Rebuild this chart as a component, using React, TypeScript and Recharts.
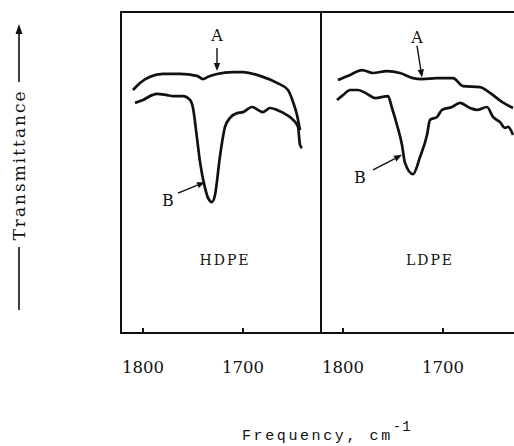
import {
  LineChart,
  Line,
  XAxis,
  YAxis,
  ReferenceArea,
  ReferenceLine,
  ReferenceDot,
} from "recharts";

// frequency axis (cm-1), each panel shows the same window, high -> low
const freqDomain = [1622, 1822];
const freqTicks = [1800, 1700];

// HDPE, spectrum A
const hdpeAFreq = [1810, 1803, 1793, 1780, 1763, 1746, 1740, 1735, 1726, 1710, 1700, 1683, 1666, 1655, 1650, 1646, 1643];
const hdpeAT = [75.7, 77.9, 79.8, 80.7, 80.7, 80.1, 79.1, 79.8, 80.7, 81.3, 81.3, 80.1, 77.9, 75.7, 72.0, 67.9, 63.2];

// HDPE, spectrum B
const hdpeBFreq = [1808, 1800, 1791, 1786, 1776, 1770, 1760, 1753, 1750, 1746, 1743, 1738, 1735, 1731, 1728, 1723, 1718, 1713, 1706, 1700, 1691, 1685, 1680, 1673, 1666, 1656, 1650, 1645, 1643, 1641];
const hdpeBT = [71.7, 72.6, 74.1, 74.5, 74.1, 73.8, 73.8, 72.6, 70.1, 60.7, 53.3, 45.2, 42.1, 40.8, 43.0, 55.1, 64.2, 67.0, 68.5, 68.8, 70.4, 69.5, 68.8, 70.1, 69.5, 67.9, 66.4, 64.2, 58.6, 57.6];

// LDPE, spectrum A
const ldpeAFreq = [1805, 1793, 1781, 1770, 1756, 1743, 1730, 1721, 1706, 1690, 1680, 1663, 1653, 1641, 1630];
const ldpeAT = [78.8, 80.4, 81.9, 81.0, 81.6, 81.0, 79.4, 79.1, 79.4, 79.4, 76.9, 76.6, 74.8, 72.0, 70.1];

// LDPE, spectrum B
const ldpeBFreq = [1806, 1800, 1793, 1785, 1776, 1768, 1755, 1751, 1746, 1741, 1738, 1730, 1723, 1716, 1713, 1706, 1701, 1691, 1683, 1673, 1666, 1656, 1650, 1643, 1638, 1635, 1630];
const ldpeBT = [72.6, 74.1, 75.7, 75.7, 74.5, 73.2, 73.8, 70.1, 64.8, 58.6, 53.0, 49.5, 54.8, 61.7, 66.4, 67.3, 69.5, 70.4, 71.7, 70.1, 69.5, 70.4, 67.3, 65.7, 63.9, 64.2, 61.7];

// curve labels: text position, arrow start, arrow tip (freq, transmittance)
const hdpeNotes = [
  { text: "A", at: [1726, 92.8], from: [1726, 88.8], to: [1726, 81.6] },
  { text: "B", at: [1775, 41.4], from: [1765, 43.6], to: [1738, 47.0] },
];
const ldpeNotes = [
  { text: "A", at: [1726, 92.2], from: [1726, 89.5], to: [1721, 79.6] },
  { text: "B", at: [1783, 48.3], from: [1770, 50.8], to: [1741, 55.5] },
];

const panelLabelT = 22.7;

const zip = (f: number[], t: number[]) => f.map((v, i) => ({ f: v, t: t[i] }));

const INK = "#111";

const FreqTick = (props: any) => {
  const { x, y, payload } = props;
  return (
    <g>
      <line x1={x} x2={x} y1={y} y2={y - 5} stroke={INK} strokeWidth={2} />
      <text
        x={x}
        y={y + 40}
        textAnchor="middle"
        fontFamily="DejaVu Serif"
        fontSize={16.5}
        fill={INK}
      >
        {payload.value}
      </text>
    </g>
  );
};

const arrowShape = (p: any) => {
  const { x1, y1, x2, y2 } = p;
  const a = Math.atan2(y2 - y1, x2 - x1);
  const L = 8;
  const W = 3.2;
  const bx = x2 - L * Math.cos(a);
  const by = y2 - L * Math.sin(a);
  const pts = `${x2},${y2} ${bx - W * Math.sin(a)},${by + W * Math.cos(a)} ${bx + W * Math.sin(a)},${by - W * Math.cos(a)}`;
  return (
    <g>
      <line x1={x1} y1={y1} x2={bx} y2={by} stroke={INK} strokeWidth={1.4} />
      <polygon points={pts} fill={INK} />
    </g>
  );
};

const textShape = (label: string, size: number, spacing = 0) => (p: any) => (
  <text
    x={p.cx}
    y={p.cy}
    textAnchor="middle"
    dominantBaseline="central"
    fontFamily="DejaVu Serif"
    fontSize={size}
    letterSpacing={spacing}
    fill={INK}
  >
    {label}
  </text>
);

type Note = { text: string; at: number[]; from: number[]; to: number[] };

function Panel({
  name,
  nameFreq,
  a,
  b,
  notes,
  marginLeft,
}: {
  name: string;
  nameFreq: number;
  a: { f: number; t: number }[];
  b: { f: number; t: number }[];
  notes: Note[];
  marginLeft: number;
}) {
  return (
    <LineChart
      width={marginLeft + 210}
      height={446}
      margin={{ top: 12, right: 10, left: marginLeft, bottom: 73 }}
    >
      <XAxis
        dataKey="f"
        type="number"
        domain={freqDomain}
        reversed
        allowDataOverflow
        ticks={freqTicks}
        height={40}
        tickSize={0}
        tickMargin={0}
        tickLine={false}
        axisLine={{ stroke: INK, strokeWidth: 2 }}
        tick={FreqTick}
      />
      <YAxis type="number" domain={[0, 100]} hide width={0} />
      <ReferenceArea
        x1={freqDomain[0]}
        x2={freqDomain[1]}
        y1={0}
        y2={100}
        fill="none"
        fillOpacity={0}
        stroke={INK}
        strokeWidth={2}
      />
      <Line
        data={a}
        dataKey="t"
        type="monotone"
        stroke={INK}
        strokeWidth={2.7}
        dot={false}
        isAnimationActive={false}
      />
      <Line
        data={b}
        dataKey="t"
        type="monotone"
        stroke={INK}
        strokeWidth={2.7}
        dot={false}
        isAnimationActive={false}
      />
      {notes.map((n, i) => (
        <ReferenceLine
          key={"arrow" + i}
          segment={[
            { x: n.from[0], y: n.from[1] },
            { x: n.to[0], y: n.to[1] },
          ]}
          shape={arrowShape}
        />
      ))}
      {notes.map((n, i) => (
        <ReferenceDot
          key={"text" + i}
          x={n.at[0]}
          y={n.at[1]}
          r={0}
          shape={textShape(n.text, 16)}
        />
      ))}
      <ReferenceDot x={nameFreq} y={panelLabelT} r={0} shape={textShape(name, 14, 2)} />
    </LineChart>
  );
}

export default function App() {
  return (
    <div
      style={{
        position: "absolute",
        left: 0,
        top: 0,
        width: 514,
        height: 446,
        overflow: "hidden",
        background: "#fff",
      }}
    >
      <div style={{ position: "absolute", left: 0, top: 0 }}>
        <Panel
          name="HDPE"
          nameFreq={1718}
          a={zip(hdpeAFreq, hdpeAT)}
          b={zip(hdpeBFreq, hdpeBT)}
          notes={hdpeNotes}
          marginLeft={121}
        />
      </div>
      <div style={{ position: "absolute", left: 321, top: 0 }}>
        <Panel
          name="LDPE"
          nameFreq={1713}
          a={zip(ldpeAFreq, ldpeAT)}
          b={zip(ldpeBFreq, ldpeBT)}
          notes={ldpeNotes}
          marginLeft={0}
        />
      </div>
      <svg
        width={514}
        height={446}
        style={{ position: "absolute", left: 0, top: 0, pointerEvents: "none" }}
      >
        {/* y axis title with its arrows */}
        <line x1={19} x2={19} y1={33} y2={82} stroke={INK} strokeWidth={1.6} />
        <polygon points="19,24 15.5,34 22.5,34" fill={INK} />
        <line x1={19} x2={19} y1={247} y2={310} stroke={INK} strokeWidth={1.6} />
        <text
          transform="translate(25,165) rotate(-90)"
          textAnchor="middle"
          fontFamily="DejaVu Serif"
          fontSize={17}
          letterSpacing={2}
          fill={INK}
        >
          Transmittance
        </text>
        {/* x axis title */}
        <text
          x={242}
          y={440}
          fontFamily="Liberation Mono"
          fontSize={15}
          letterSpacing={2.6}
          fill={INK}
        >
          Frequency, cm
          <tspan dy={-9} fontSize={14} letterSpacing={1}>
            -1
          </tspan>
        </text>
      </svg>
    </div>
  );
}
